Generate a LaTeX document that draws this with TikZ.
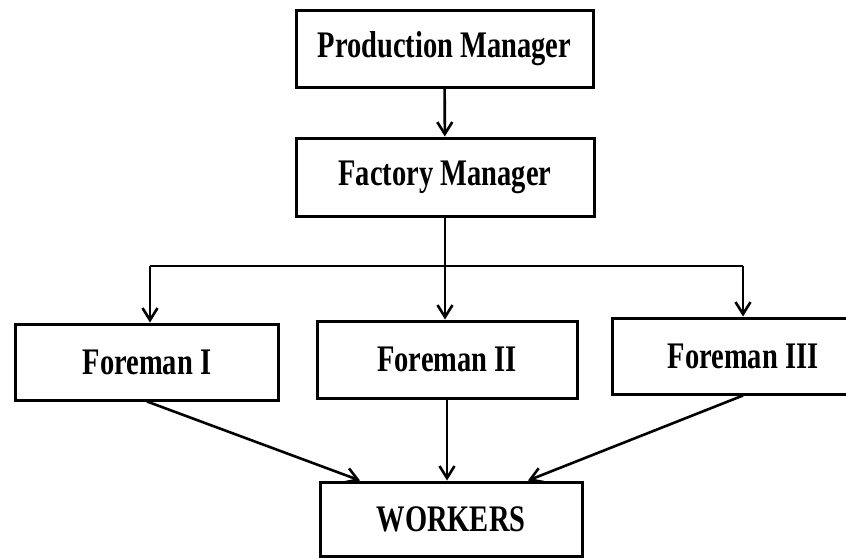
\documentclass[tikz,border=0pt]{standalone}
\usepackage{fontspec}
\setmainfont{Liberation Serif}[FakeStretch=0.76]
\usetikzlibrary{arrows.meta}
\begin{document}
\begin{tikzpicture}[x=1pt,y=-1pt,
  box/.style={draw, line width=3pt, inner sep=0pt,
    font=\fontsize{37.5}{40}\selectfont\bfseries},
  link/.style={line width=2.6pt,
    -{Straight Barb[length=12pt,width=15pt,line width=2.6pt]}},
  wire/.style={line width=2.6pt}]
\useasboundingbox (0,0) rectangle (846,557);
\clip (0,0) rectangle (846,557);

% hierarchy boxes
\node[box, minimum width=297pt, minimum height=77pt] (pm) at (444.5,48.5) {Production Manager};
\node[box, minimum width=298pt, minimum height=78pt] (fm) at (445,177) {Factory Manager};
\node[box, minimum width=263pt, minimum height=76pt] (f1) at (147,362) {Foreman I};
\node[box, minimum width=260pt, minimum height=77pt] (f2) at (447,359.5) {Foreman II};
\node[box, minimum width=262pt, minimum height=76pt] (f3) at (743,356) {Foreman III};
\node[box, minimum width=262pt, minimum height=74pt] (wk) at (451,519) {WORKERS};

% branching points of the distribution line
\coordinate (jn) at (445,266);
\coordinate (lt) at (150,266);
\coordinate (rt) at (743,266);

\draw[link] (pm) -- (fm);
\draw[wire] (fm.south) -- (jn);
\draw[wire] (lt) -- (rt);
\draw[link] (jn) -- (jn |- f2.north);
\draw[link] (lt) -- (lt |- f1.north);
\draw[link] (rt) -- (f3.north);

% foremen report to the workers
\draw[link] (f1.south) -- ([xshift=-91pt]wk.north);
\draw[link] (f2.south) -- (f2.south |- wk.north);
\draw[link] (f3.south) -- ([xshift=77pt]wk.north);
\end{tikzpicture}
\end{document}
